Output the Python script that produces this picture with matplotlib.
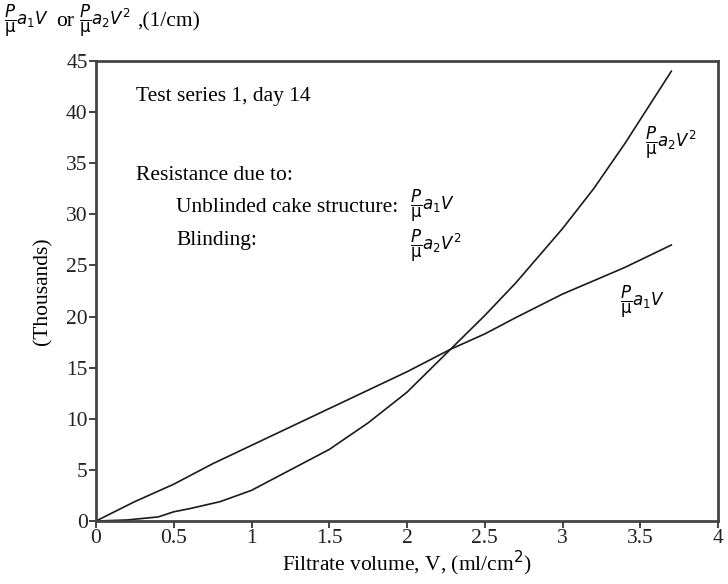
import matplotlib
matplotlib.use("Agg")
import matplotlib.pyplot as plt

# Data (values in thousands, 1/cm)
v_lin = [0, 0.25, 0.5, 0.75, 1.0, 1.25, 1.5, 1.75, 2.0, 2.28, 2.5, 2.7, 3.0, 3.2, 3.4, 3.7]
r_lin = [0, 1.9, 3.6, 5.6, 7.4, 9.2, 11.0, 12.8, 14.6, 16.8, 18.3, 19.9, 22.2, 23.5, 24.8, 27.0]
v_quad = [0, 0.2, 0.4, 0.5, 0.6, 0.8, 1.0, 1.25, 1.5, 1.75, 2.0, 2.28, 2.5, 2.7, 3.0, 3.2, 3.4, 3.7]
r_quad = [0, 0.1, 0.4, 0.9, 1.2, 1.9, 3.0, 5.0, 7.0, 9.6, 12.6, 16.8, 20.1, 23.3, 28.6, 32.5, 36.9, 44.0]
x_ticks = [0, 0.5, 1, 1.5, 2, 2.5, 3, 3.5, 4]
x_tick_labels = ["0", "0.5", "1", "1.5", "2", "2.5", "3", "3.5", "4"]
y_ticks = [0, 5, 10, 15, 20, 25, 30, 35, 40, 45]

plt.rcParams['font.family'] = ['Liberation Serif', 'DejaVu Serif']
plt.rcParams['mathtext.fontset'] = 'dejavusans'

fig = plt.figure(figsize=(7.28, 5.84), dpi=100)
ax = fig.add_axes([96/728, 1-521/584, (718-96)/728, (521-61)/584])

ax.plot(v_lin, r_lin, color='#1a1a1a', lw=1.2)
ax.plot(v_quad, r_quad, color='#1a1a1a', lw=1.2)

ax.set_xlim(0, 4)
ax.set_ylim(0, 45)
ax.set_xticks(x_ticks)
ax.set_xticklabels(x_tick_labels)
ax.set_yticks(y_ticks)
ax.tick_params(direction='out', length=5, width=1.2, labelsize=15.5, colors='#222222', pad=1)
for s in ax.spines.values():
    s.set_linewidth(2)
    s.set_color('#444444')

ax.set_xlabel("Filtrate volume, V, (ml/cm$^2$)", fontsize=15.5, labelpad=0)
ax.set_ylabel("(Thousands)", fontsize=15.5, labelpad=10)

F1 = r"$\dfrac{P}{\mathrm{\mu}}a_1V$"
F2 = r"$\dfrac{P}{\mathrm{\mu}}a_2V^2$"

def px(x, y):
    return x/728, 1-y/584

fs_f = 12
fig.text(*px(4, 21), F1, fontsize=fs_f, va='center', ha='left')
fig.text(*px(56, 22), "or", fontsize=15.5, va='center', ha='left')
fig.text(*px(79, 21), F2, fontsize=fs_f, va='center', ha='left')
fig.text(*px(137, 22), ",(1/cm)", fontsize=15.5, va='center', ha='left')

kw = dict(fontsize=15.5, va='center', ha='left')
fig.text(*px(136, 97), "Test series 1, day 14", **kw)
fig.text(*px(136, 176), "Resistance due to:", **kw)
fig.text(*px(176, 208), "Unblinded cake structure:", **kw)
fig.text(*px(176, 241), "Blinding:", **kw)
fig.text(*px(410, 206), F1, fontsize=fs_f, va='center', ha='left')
fig.text(*px(410, 246), F2, fontsize=fs_f, va='center', ha='left')
fig.text(*px(645, 143), F2, fontsize=fs_f, va='center', ha='left')
fig.text(*px(620, 302), F1, fontsize=fs_f, va='center', ha='left')

fig.savefig("out.png", dpi=100)
